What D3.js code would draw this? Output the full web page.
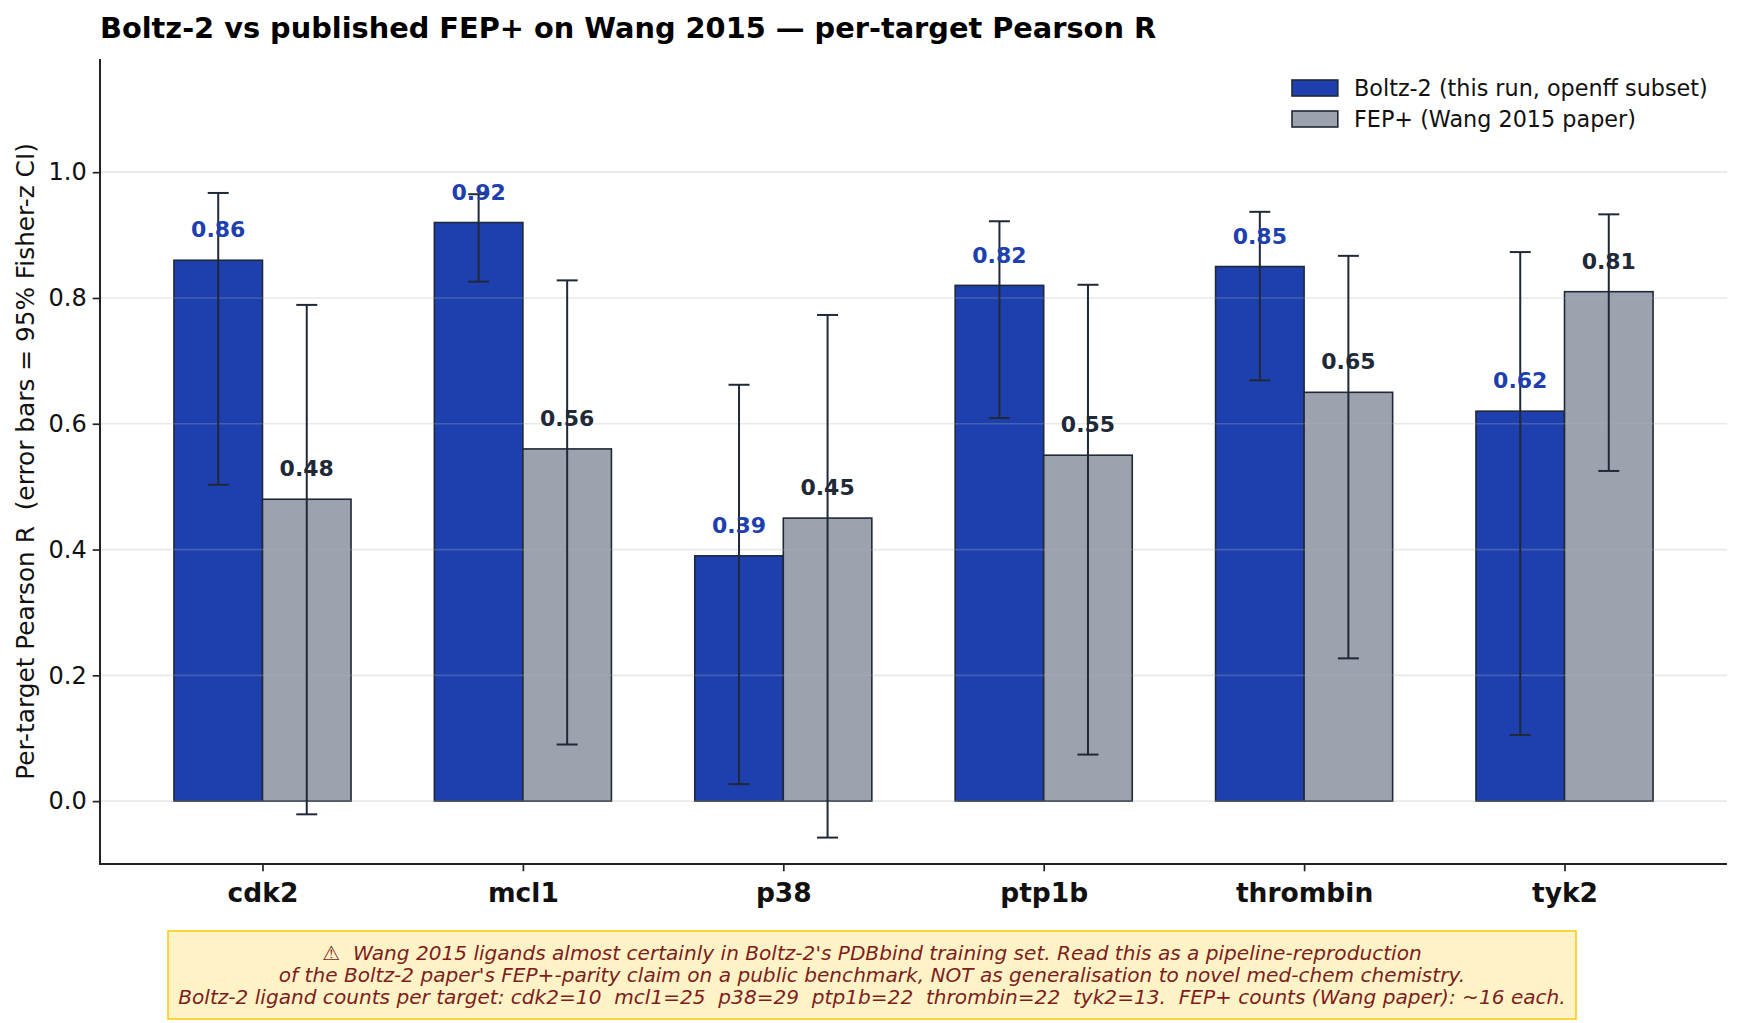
<!DOCTYPE html>
<html>
<head>
<meta charset="utf-8">
<script src="https://cdn.jsdelivr.net/npm/d3@7"></script>
<style>
  html, body { margin: 0; padding: 0; background: #fff; }
  svg { display: block; font-family: "DejaVu Sans", sans-serif; }
</style>
</head>
<body>
<svg id="chart" width="1744" height="1023"></svg>
<script>
// per-target Pearson R
const targets = ['cdk2', 'mcl1', 'p38', 'ptp1b', 'thrombin', 'tyk2'];
const boltzR  = [0.86, 0.92, 0.39, 0.82, 0.85, 0.62];
const boltzLo = [0.503, 0.826, 0.027, 0.609, 0.669, 0.105];
const boltzHi = [0.967, 0.965, 0.662, 0.922, 0.937, 0.873];
const fepR    = [0.48, 0.56, 0.45, 0.55, 0.65, 0.81];
const fepLo   = [-0.021, 0.090, -0.058, 0.074, 0.227, 0.525];
const fepHi   = [0.789, 0.828, 0.773, 0.821, 0.867, 0.933];
const yTicks  = [0.0, 0.2, 0.4, 0.6, 0.8, 1.0];
const seriesNames = ['Boltz-2 (this run, openff subset)', 'FEP+ (Wang 2015 paper)'];
const noteLines = [
    "\u26A0  Wang 2015 ligands almost certainly in Boltz-2's PDBbind training set. Read this as a pipeline-reproduction",
    "of the Boltz-2 paper's FEP+-parity claim on a public benchmark, NOT as generalisation to novel med-chem chemistry.",
    "Boltz-2 ligand counts per target: cdk2=10  mcl1=25  p38=29  ptp1b=22  thrombin=22  tyk2=13.  FEP+ counts (Wang paper): ~16 each."
];

const BLUE = '#1e40af', GREY = '#9ca3af', EDGE = '#1f2937';
const barW = 0.34;

const svg = d3.select('#chart');
const plot = {left: 100, right: 1727, top: 59, bottom: 864};

const xScale = d3.scaleLinear()
    .domain([-0.624, targets.length - 1 + 0.624])
    .range([plot.left, plot.right]);
const yScale = d3.scaleLinear()
    .domain([-0.1, 1.18])
    .range([plot.bottom, plot.top]);

const series = [
    {name: seriesNames[0], r: boltzR, lo: boltzLo, hi: boltzHi, fill: BLUE, label: BLUE, off: -barW / 2},
    {name: seriesNames[1], r: fepR, lo: fepLo, hi: fepHi, fill: GREY, label: EDGE, off: barW / 2}
];

// bars
series.forEach(s => {
    svg.append('g')
        .selectAll('rect')
        .data(targets)
        .enter()
        .append('rect')
            .attr('x', (d, i) => xScale(i + s.off - barW / 2))
            .attr('width', xScale(barW) - xScale(0))
            .attr('y', (d, i) => yScale(Math.max(0, s.r[i])))
            .attr('height', (d, i) => Math.abs(yScale(0) - yScale(s.r[i])))
            .attr('fill', s.fill)
            .attr('stroke', EDGE)
            .attr('stroke-width', 1.6);
});

// grid on top, faint
svg.append('g')
    .selectAll('line')
    .data(yTicks)
    .enter()
    .append('line')
        .attr('x1', plot.left)
        .attr('x2', plot.right)
        .attr('y1', d => yScale(d))
        .attr('y2', d => yScale(d))
        .attr('stroke', '#b0b0b0')
        .attr('stroke-opacity', 0.28)
        .attr('stroke-width', 1.7);

// error bars
const cap = 10.5;
series.forEach(s => {
    const g = svg.append('g').attr('stroke', EDGE).attr('stroke-width', 2);
    targets.forEach((t, i) => {
        const cx = xScale(i + s.off);
        g.append('line').attr('x1', cx).attr('x2', cx)
            .attr('y1', yScale(s.lo[i])).attr('y2', yScale(s.hi[i]));
        [s.lo[i], s.hi[i]].forEach(v => {
            g.append('line').attr('x1', cx - cap).attr('x2', cx + cap)
                .attr('y1', yScale(v)).attr('y2', yScale(v));
        });
    });
});

// value labels
series.forEach(s => {
    svg.append('g')
        .selectAll('text')
        .data(targets)
        .enter()
        .append('text')
            .attr('x', (d, i) => xScale(i + s.off))
            .attr('y', (d, i) => yScale(s.r[i] + 0.03) - 4)
            .attr('text-anchor', 'middle')
            .attr('font-size', 22)
            .attr('font-weight', 'bold')
            .attr('fill', s.label)
            .text((d, i) => s.r[i].toFixed(2));
});

// axes
const yAxis = d3.axisLeft(yScale)
    .tickValues(yTicks)
    .tickFormat(d3.format('.1f'))
    .tickSize(7.3)
    .tickPadding(6);
svg.append('g')
    .attr('transform', `translate(${plot.left}, 0)`)
    .call(yAxis)
    .call(g => g.select('.domain').remove())
    .call(g => g.selectAll('.tick line').attr('stroke', '#222').attr('stroke-width', 1.7))
    .call(g => g.selectAll('.tick text')
        .attr('font-size', 24).attr('fill', '#111').attr('font-family', 'DejaVu Sans'));

const xAxis = d3.axisBottom(xScale)
    .tickValues(d3.range(targets.length))
    .tickFormat(i => targets[i])
    .tickSize(7.3)
    .tickPadding(12);
svg.append('g')
    .attr('transform', `translate(0, ${plot.bottom})`)
    .call(xAxis)
    .call(g => g.select('.domain').remove())
    .call(g => g.selectAll('.tick line').attr('stroke', '#222').attr('stroke-width', 1.7))
    .call(g => g.selectAll('.tick text')
        .attr('font-size', 26.5).attr('font-weight', 'bold').attr('fill', '#111')
        .attr('font-family', 'DejaVu Sans'));

// spines
svg.append('line')
    .attr('x1', plot.left).attr('x2', plot.left)
    .attr('y1', plot.top).attr('y2', plot.bottom + 1)
    .attr('stroke', '#222').attr('stroke-width', 2);
svg.append('line')
    .attr('x1', plot.left - 1).attr('x2', plot.right)
    .attr('y1', plot.bottom).attr('y2', plot.bottom)
    .attr('stroke', '#222').attr('stroke-width', 2);

// y label
svg.append('text')
    .attr('transform', `translate(34, ${(plot.top + plot.bottom) / 2}) rotate(-90)`)
    .attr('text-anchor', 'middle')
    .attr('font-size', 24.8)
    .attr('fill', '#111')
    .style('white-space', 'pre')
    .text('Per-target Pearson R  (error bars = 95% Fisher-z CI)');

// title
svg.append('text')
    .attr('x', plot.left)
    .attr('y', 38)
    .attr('font-size', 28.8)
    .attr('font-weight', 'bold')
    .attr('fill', '#000')
    .text('Boltz-2 vs published FEP+ on Wang 2015 \u2014 per-target Pearson R');

// legend
const legend = svg.append('g').attr('transform', 'translate(1292, 88)');
series.forEach((s, i) => {
    const row = legend.append('g').attr('transform', `translate(0, ${i * 31})`);
    row.append('rect')
        .attr('x', 0).attr('y', -8)
        .attr('width', 45.8).attr('height', 16)
        .attr('fill', s.fill).attr('stroke', EDGE).attr('stroke-width', 1.6);
    row.append('text')
        .attr('x', 62).attr('y', 8)
        .attr('font-size', 22.3)
        .attr('fill', '#111')
        .text(s.name);
});

// footnote box
const note = svg.append('g');
note.append('rect')
    .attr('x', 168).attr('y', 931)
    .attr('width', 1408).attr('height', 88)
    .attr('fill', '#fef3c7')
    .attr('stroke', '#facc15')
    .attr('stroke-width', 1.6);
note.selectAll('text')
    .data(noteLines)
    .enter()
    .append('text')
        .attr('x', 872)
        .attr('y', (d, i) => 960 + i * 22)
        .attr('text-anchor', 'middle')
        .attr('font-size', 20.1)
        .attr('font-style', 'italic')
        .attr('fill', '#7f1d1d')
        .style('white-space', 'pre')
        .text(d => d);
</script>
</body>
</html>
